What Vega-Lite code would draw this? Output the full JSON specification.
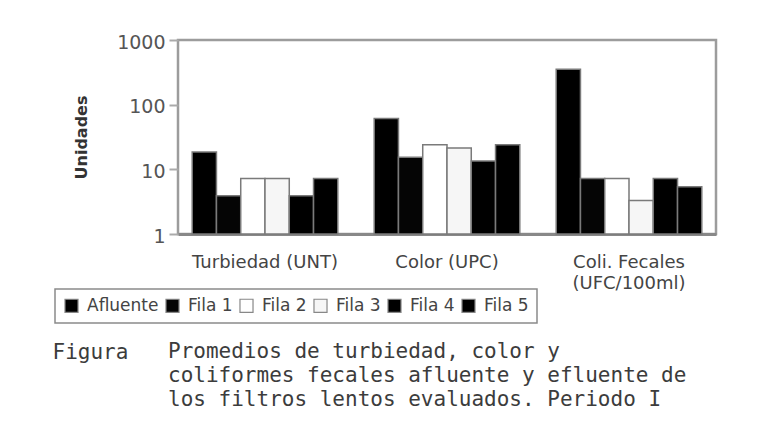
{
  "$schema": "https://vega.github.io/schema/vega-lite/v6.json",
  "width": 538,
  "height": 194,
  "autosize": {"type": "none"},
  "padding": {"left": 178, "top": 40, "right": 47, "bottom": 191},
  "background": "white",
  "title": {
    "text": [
      "Promedios de turbiedad, color y",
      "coliformes fecales afluente y efluente de",
      "los filtros lentos evaluados. Periodo I"
    ],
    "orient": "bottom",
    "anchor": "start",
    "frame": "group",
    "align": "left",
    "baseline": "top",
    "dx": -10,
    "offset": -21,
    "font": "DejaVu Sans Mono",
    "fontSize": 21,
    "fontWeight": "normal",
    "color": "#3c3c3c",
    "lineHeight": 24
  },
  "data": {
    "values": [
      {"parametro": "Turbiedad (UNT)", "serie": "Afluente", "valor": 18.5},
      {"parametro": "Turbiedad (UNT)", "serie": "Fila 1", "valor": 3.9},
      {"parametro": "Turbiedad (UNT)", "serie": "Fila 2", "valor": 7.2},
      {"parametro": "Turbiedad (UNT)", "serie": "Fila 3", "valor": 7.2},
      {"parametro": "Turbiedad (UNT)", "serie": "Fila 4", "valor": 3.9},
      {"parametro": "Turbiedad (UNT)", "serie": "Fila 5", "valor": 7.2},
      {"parametro": "Color (UPC)", "serie": "Afluente", "valor": 61},
      {"parametro": "Color (UPC)", "serie": "Fila 1", "valor": 15.4},
      {"parametro": "Color (UPC)", "serie": "Fila 2", "valor": 24},
      {"parametro": "Color (UPC)", "serie": "Fila 3", "valor": 21.4},
      {"parametro": "Color (UPC)", "serie": "Fila 4", "valor": 13.5},
      {"parametro": "Color (UPC)", "serie": "Fila 5", "valor": 24},
      {"parametro": "Coli. Fecales (UFC/100ml)", "serie": "Afluente", "valor": 352},
      {"parametro": "Coli. Fecales (UFC/100ml)", "serie": "Fila 1", "valor": 7.2},
      {"parametro": "Coli. Fecales (UFC/100ml)", "serie": "Fila 2", "valor": 7.2},
      {"parametro": "Coli. Fecales (UFC/100ml)", "serie": "Fila 3", "valor": 3.3},
      {"parametro": "Coli. Fecales (UFC/100ml)", "serie": "Fila 4", "valor": 7.2},
      {"parametro": "Coli. Fecales (UFC/100ml)", "serie": "Fila 5", "valor": 5.4}
    ]
  },
  "mark": {"type": "bar", "stroke": "#7a7a7a", "strokeWidth": 1.5},
  "encoding": {
    "x": {
      "field": "parametro",
      "type": "nominal",
      "sort": ["Turbiedad (UNT)", "Color (UPC)", "Coli. Fecales (UFC/100ml)"],
      "scale": {"paddingInner": 0.2, "paddingOuter": 0.078},
      "axis": {
        "title": "Figura",
        "titleX": -126,
        "titleY": 107,
        "titleAlign": "left",
        "titleAnchor": "start",
        "titleBaseline": "top",
        "titleFont": "DejaVu Sans Mono",
        "titleFontSize": 21,
        "titleFontWeight": "normal",
        "titleColor": "#3c3c3c",
        "ticks": false,
        "labelAngle": 0,
        "labelFont": "DejaVu Sans",
        "labelFontSize": 18,
        "labelColor": "#444",
        "labelPadding": 19,
        "labelLineHeight": 21,
        "domainColor": "#888",
        "domainWidth": 3,
        "labelExpr": "datum.value == 'Coli. Fecales (UFC/100ml)' ? ['Coli. Fecales', '(UFC/100ml)'] : datum.label"
      }
    },
    "xOffset": {
      "field": "serie",
      "type": "nominal",
      "sort": ["Afluente", "Fila 1", "Fila 2", "Fila 3", "Fila 4", "Fila 5"],
      "scale": {"paddingInner": 0, "paddingOuter": 0}
    },
    "y": {
      "field": "valor",
      "type": "quantitative",
      "scale": {"type": "log", "domain": [1, 1000], "nice": false},
      "axis": {
        "title": "Unidades",
        "values": [1, 10, 100, 1000],
        "format": "d",
        "grid": false,
        "domain": false,
        "labelFont": "DejaVu Sans",
        "labelFontSize": 19,
        "labelColor": "#555",
        "labelPadding": 4,
        "labelOffset": 2,
        "tickColor": "#aaa",
        "tickSize": 9,
        "tickWidth": 2,
        "titleFont": "DejaVu Sans",
        "titleFontSize": 16,
        "titleFontWeight": "bold",
        "titleColor": "#333",
        "titleAngle": -90,
        "titleAlign": "center",
        "titleBaseline": "middle",
        "titleX": -97,
        "titleY": 97
      }
    },
    "y2": {"datum": 1},
    "fill": {
      "field": "serie",
      "type": "nominal",
      "scale": {
        "domain": ["Afluente", "Fila 1", "Fila 2", "Fila 3", "Fila 4", "Fila 5"],
        "range": ["#000000", "#050505", "#ffffff", "#f6f6f6", "#000000", "#000000"]
      },
      "legend": {
        "title": null,
        "orient": "none",
        "legendX": -123,
        "legendY": 249,
        "direction": "horizontal",
        "symbolType": "square",
        "symbolSize": 170,
        "symbolStrokeColor": "#888",
        "symbolStrokeWidth": 1.2,
        "labelFont": "DejaVu Sans",
        "labelFontSize": 17,
        "labelColor": "#444",
        "labelOffset": 7,
        "columnPadding": 4,
        "padding": 8,
        "strokeColor": "#8a8a8a",
        "fillColor": "white"
      }
    }
  },
  "config": {
    "view": {"stroke": "#9c9c9c", "strokeWidth": 2.5},
    "legend": {"strokeWidth": 1.5}
  }
}
